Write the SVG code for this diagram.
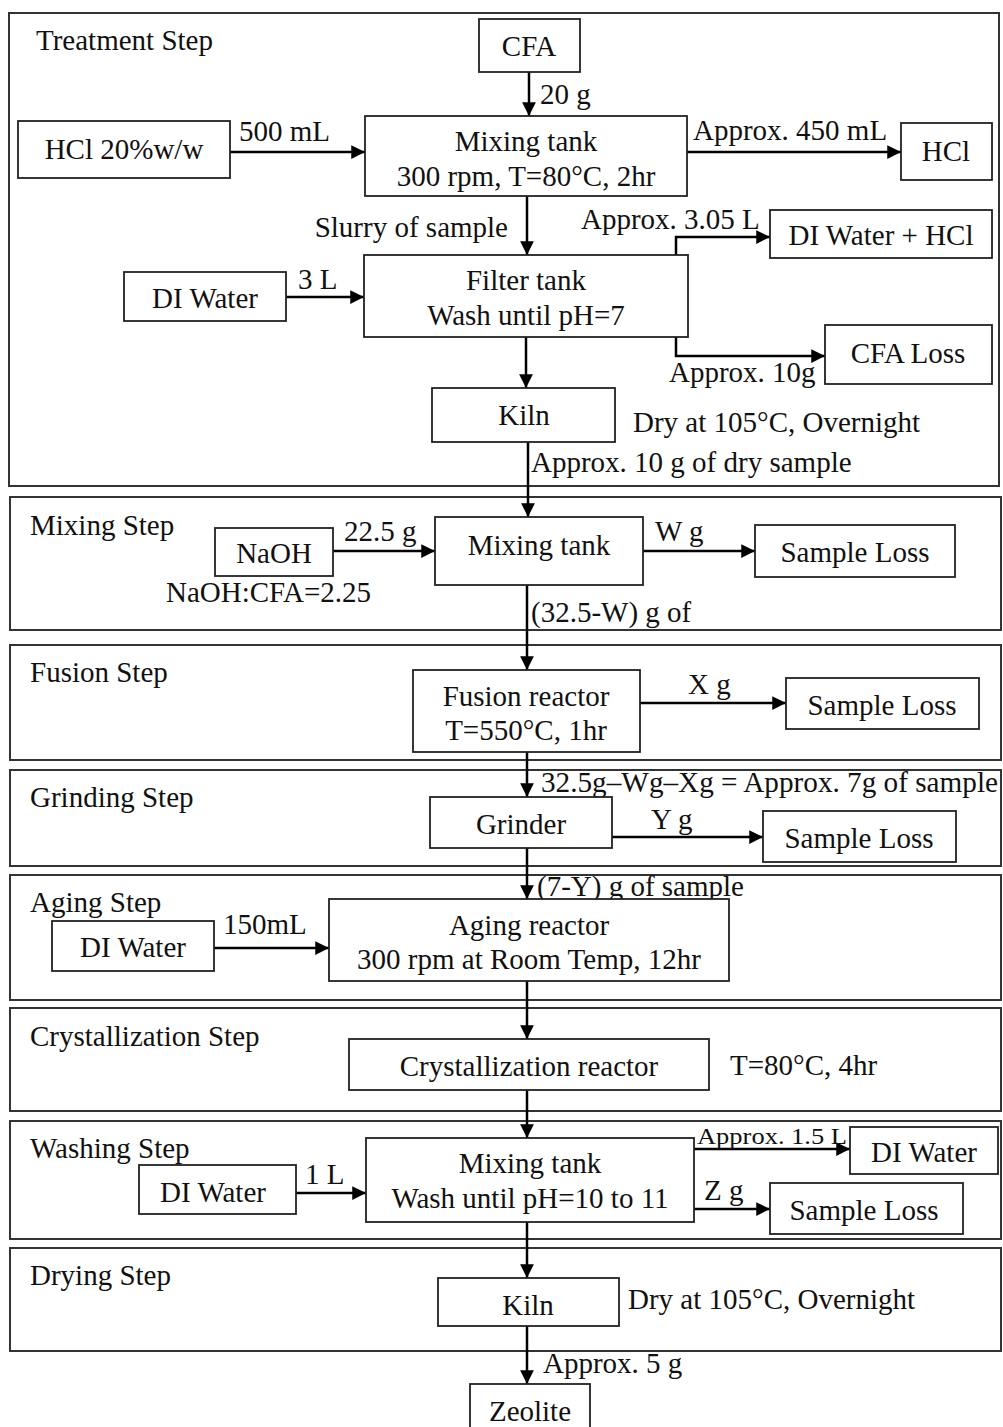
<svg xmlns="http://www.w3.org/2000/svg" width="1003" height="1427" viewBox="0 0 1003 1427">
<style>
text{font-family:"Liberation Serif","Times New Roman",serif;font-size:29px;fill:#111}
.sec{fill:none;stroke:#333;stroke-width:2}
.box{fill:#fff;stroke:#222;stroke-width:1.8}
.c{text-anchor:middle}
.ar{fill:none;stroke:#000;stroke-width:2.5;marker-end:url(#ah)}
</style>
<defs>
<marker id="ah" viewBox="0 0 10 10" refX="10" refY="5" markerWidth="5.5" markerHeight="5.5" markerUnits="strokeWidth" orient="auto">
<path d="M0,0 L10,5 L0,10 Z" fill="#000"/>
</marker>
</defs>
<rect width="1003" height="1427" fill="#fff"/>

<g id="sections">
<rect class="sec" x="9" y="13" width="990" height="473"/>
<rect class="sec" x="10" y="497" width="991" height="133"/>
<rect class="sec" x="10" y="645" width="991" height="115"/>
<rect class="sec" x="10" y="770" width="991" height="96"/>
<rect class="sec" x="10" y="875" width="991" height="125"/>
<rect class="sec" x="10" y="1008" width="991" height="103"/>
<rect class="sec" x="10" y="1121" width="991" height="118"/>
<rect class="sec" x="10" y="1248" width="991" height="103"/>
<text x="36" y="50">Treatment Step</text>
<text x="30" y="535">Mixing Step</text>
<text x="30" y="682">Fusion Step</text>
<text x="30" y="807">Grinding Step</text>
<text x="30" y="912">Aging Step</text>
<text x="30" y="1046">Crystallization Step</text>
<text x="30" y="1158">Washing Step</text>
<text x="30" y="1285">Drying Step</text>
</g>

<g id="connectors">
<line class="ar" x1="529" y1="72" x2="529" y2="116"/>
<line class="ar" x1="230" y1="152" x2="365" y2="152"/>
<line class="ar" x1="687" y1="152" x2="901" y2="152"/>
<line class="ar" x1="527" y1="196" x2="527" y2="255"/>
<line class="ar" x1="286" y1="297" x2="364" y2="297"/>
<polyline class="ar" points="676,255 676,237 770,237"/>
<polyline class="ar" points="676,337 676,356 825,356"/>
<line class="ar" x1="526" y1="337" x2="526" y2="388"/>
<line class="ar" x1="528" y1="442" x2="528" y2="517"/>
<line class="ar" x1="333" y1="551" x2="435" y2="551"/>
<line class="ar" x1="643" y1="551" x2="755" y2="551"/>
<line class="ar" x1="527" y1="585" x2="527" y2="670"/>
<line class="ar" x1="640" y1="703" x2="786" y2="703"/>
<line class="ar" x1="527" y1="752" x2="527" y2="797"/>
<line class="ar" x1="612" y1="837" x2="763" y2="837"/>
<line class="ar" x1="527" y1="848" x2="527" y2="899"/>
<line class="ar" x1="214" y1="948" x2="329" y2="948"/>
<line class="ar" x1="527" y1="981" x2="527" y2="1039"/>
<line class="ar" x1="527" y1="1090" x2="527" y2="1138"/>
<line class="ar" x1="296" y1="1193" x2="366" y2="1193"/>
<line class="ar" x1="694" y1="1149" x2="850" y2="1149"/>
<line class="ar" x1="694" y1="1209" x2="770" y2="1209"/>
<line class="ar" x1="527" y1="1222" x2="527" y2="1278"/>
<line class="ar" x1="527" y1="1326" x2="527" y2="1384"/>
</g>

<g id="labels">
<text x="540" y="104">20 g</text>
<text x="239" y="141">500 mL</text>
<text x="693" y="140">Approx. 450 mL</text>
<text x="508" y="237" text-anchor="end">Slurry of sample</text>
<text x="298" y="289">3 L</text>
<text x="581" y="229">Approx. 3.05 L</text>
<text x="669" y="382">Approx. 10g</text>
<text x="633" y="432">Dry at 105°C, Overnight</text>
<text x="531" y="472">Approx. 10 g of dry sample</text>
<text x="344" y="541">22.5 g</text>
<text x="166" y="602">NaOH:CFA=2.25</text>
<text x="655" y="541">W g</text>
<text x="531" y="622">(32.5-W) g of</text>
<text x="688" y="694">X g</text>
<text x="541" y="792" textLength="457" lengthAdjust="spacingAndGlyphs">32.5g–Wg–Xg = Approx. 7g of sample</text>
<text x="651" y="829">Y g</text>
<text x="537" y="896">(7-Y) g of sample</text>
<text x="223" y="934">150mL</text>
<text x="730" y="1075">T=80°C, 4hr</text>
<text x="305" y="1184">1 L</text>
<text x="697" y="1144" style="font-size:24px" textLength="150" lengthAdjust="spacingAndGlyphs">Approx. 1.5 L</text>
<text x="704" y="1200">Z g</text>
<text x="628" y="1309">Dry at 105°C, Overnight</text>
<text x="543" y="1373">Approx. 5 g</text>
</g>

<g id="cfa"><rect class="box" x="479" y="19" width="101" height="53"/><text class="c" x="529" y="56">CFA</text></g>
<g id="hcl-in"><rect class="box" x="18" y="121" width="212" height="57"/><text class="c" x="124" y="159">HCl 20%w/w</text></g>
<g id="mixing-tank-1"><rect class="box" x="365" y="116" width="322" height="80"/><text class="c" x="526" y="151">Mixing tank</text><text class="c" x="526" y="186">300 rpm, T=80°C, 2hr</text></g>
<g id="hcl-out"><rect class="box" x="901" y="123" width="91" height="57"/><text class="c" x="946" y="161">HCl</text></g>
<g id="di-water-1"><rect class="box" x="124" y="272" width="162" height="49"/><text class="c" x="205" y="308">DI Water</text></g>
<g id="filter-tank"><rect class="box" x="364" y="255" width="324" height="82"/><text class="c" x="526" y="290">Filter tank</text><text class="c" x="526" y="325">Wash until pH=7</text></g>
<g id="di-water-hcl"><rect class="box" x="770" y="210" width="222" height="48"/><text class="c" x="881" y="245">DI Water + HCl</text></g>
<g id="cfa-loss"><rect class="box" x="825" y="325" width="167" height="59"/><text class="c" x="908" y="363">CFA Loss</text></g>
<g id="kiln-1"><rect class="box" x="432" y="388" width="183" height="54"/><text class="c" x="524" y="425">Kiln</text></g>

<g id="naoh"><rect class="box" x="215" y="528" width="118" height="48"/><text class="c" x="274" y="563">NaOH</text></g>
<g id="mixing-tank-2"><rect class="box" x="435" y="517" width="208" height="68"/><text class="c" x="539" y="555">Mixing tank</text></g>
<g id="sample-loss-1"><rect class="box" x="755" y="525" width="200" height="52"/><text class="c" x="855" y="562">Sample Loss</text></g>

<g id="fusion-reactor"><rect class="box" x="413" y="670" width="227" height="82"/><text class="c" x="526" y="706">Fusion reactor</text><text class="c" x="526" y="740">T=550°C, 1hr</text></g>
<g id="sample-loss-2"><rect class="box" x="786" y="678" width="193" height="51"/><text class="c" x="882" y="715">Sample Loss</text></g>

<g id="grinder"><rect class="box" x="430" y="797" width="182" height="51"/><text class="c" x="521" y="834">Grinder</text></g>
<g id="sample-loss-3"><rect class="box" x="763" y="811" width="193" height="51"/><text class="c" x="859" y="848">Sample Loss</text></g>

<g id="di-water-2"><rect class="box" x="52" y="921" width="162" height="50"/><text class="c" x="133" y="957">DI Water</text></g>
<g id="aging-reactor"><rect class="box" x="329" y="899" width="400" height="82"/><text class="c" x="529" y="935">Aging reactor</text><text class="c" x="529" y="969">300 rpm at Room Temp, 12hr</text></g>

<g id="crystallization-reactor"><rect class="box" x="349" y="1039" width="360" height="51"/><text class="c" x="529" y="1076">Crystallization reactor</text></g>

<g id="di-water-3"><rect class="box" x="139" y="1165" width="157" height="49"/><text class="c" x="213" y="1202">DI Water</text></g>
<g id="mixing-tank-3"><rect class="box" x="366" y="1138" width="328" height="84"/><text class="c" x="530" y="1173">Mixing tank</text><text class="c" x="530" y="1208">Wash until pH=10 to 11</text></g>
<g id="di-water-out"><rect class="box" x="850" y="1127" width="148" height="47"/><text class="c" x="924" y="1162">DI Water</text></g>
<g id="sample-loss-4"><rect class="box" x="770" y="1183" width="193" height="51"/><text class="c" x="864" y="1220">Sample Loss</text></g>

<g id="kiln-2"><rect class="box" x="438" y="1278" width="181" height="48"/><text class="c" x="528" y="1315">Kiln</text></g>
<g id="zeolite"><rect class="box" x="470" y="1384" width="120" height="50"/><text class="c" x="530" y="1421">Zeolite</text></g>
</svg>
